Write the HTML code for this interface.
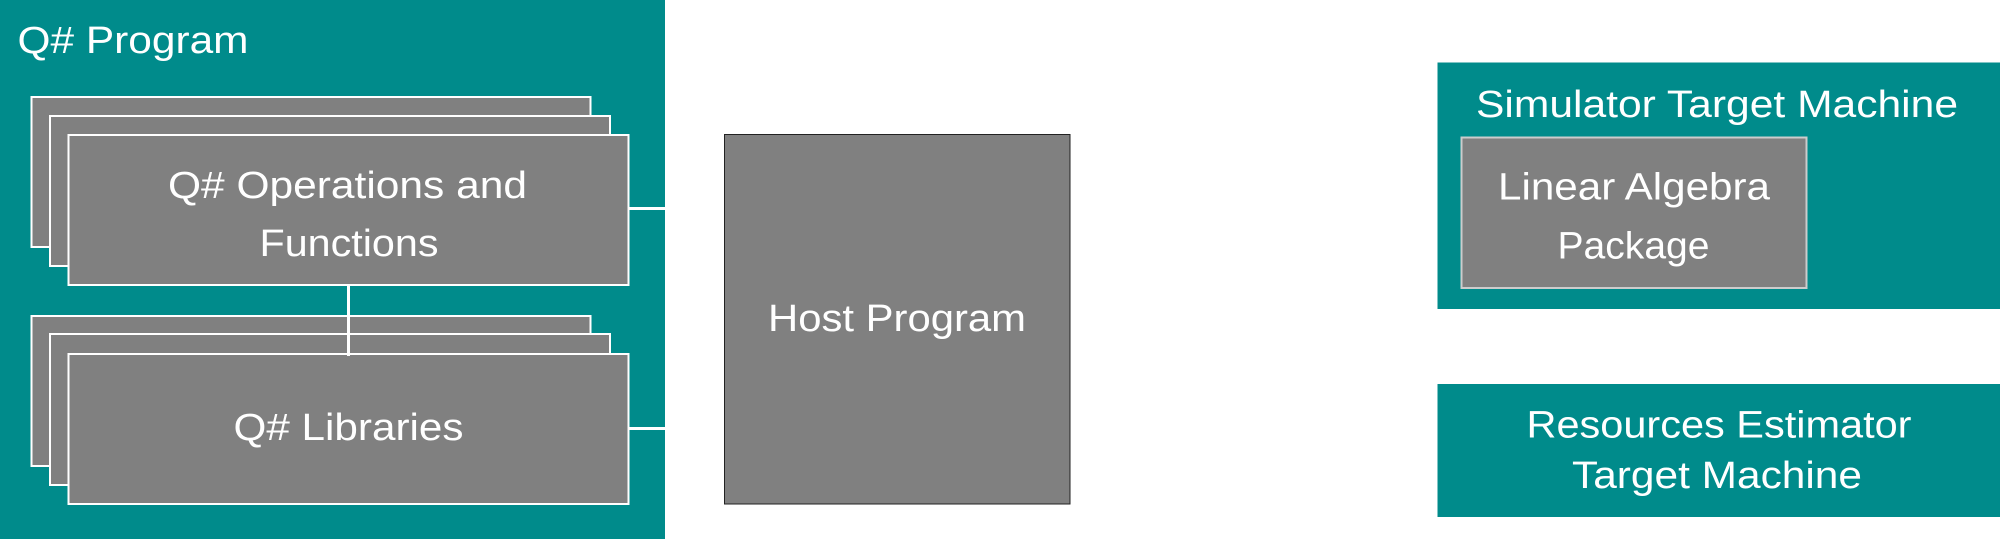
<!DOCTYPE html>
<html><head><meta charset="utf-8"><style>
html,body{margin:0;padding:0;background:#fff;width:2000px;height:539px;overflow:hidden}
text{font-family:"Liberation Sans",sans-serif;font-size:38px;fill:#fff}
</style></head><body>
<svg width="2000" height="539" viewBox="0 0 2000 539" xmlns="http://www.w3.org/2000/svg">
<rect x="0" y="0" width="665" height="539" fill="#008b8b"/>
<text x="17.5" y="53" textLength="231" lengthAdjust="spacingAndGlyphs">Q# Program</text>
<g fill="#808080" stroke="#fff" stroke-width="2">
<rect x="31.5" y="97" width="559" height="150"/>
<rect x="50" y="116" width="560" height="150"/>
<rect x="68.5" y="135" width="560" height="150"/>
<rect x="31.5" y="316" width="559" height="150"/>
<rect x="50" y="334" width="560" height="151"/>
<rect x="68.5" y="354" width="560" height="150"/>
</g>
<g stroke="#fff" stroke-width="3">
<line x1="348.5" y1="284" x2="348.5" y2="356"/>
<line x1="628" y1="208.5" x2="665" y2="208.5"/>
<line x1="628" y1="428.5" x2="665" y2="428.5"/>
</g>
<text x="168" y="198" textLength="359" lengthAdjust="spacingAndGlyphs">Q# Operations and</text>
<text x="259.5" y="256" textLength="179" lengthAdjust="spacingAndGlyphs">Functions</text>
<text x="233.5" y="440" textLength="230" lengthAdjust="spacingAndGlyphs">Q# Libraries</text>
<rect x="724.5" y="134.5" width="345.5" height="369.5" fill="#808080" stroke="#222" stroke-width="1"/>
<text x="768" y="331" textLength="258" lengthAdjust="spacingAndGlyphs">Host Program</text>
<rect x="1437.5" y="62.5" width="562.5" height="246.5" fill="#008b8b"/>
<text x="1476" y="117" textLength="482" lengthAdjust="spacingAndGlyphs">Simulator Target Machine</text>
<rect x="1461.5" y="137.5" width="345" height="150.5" fill="#808080" stroke="#ccc" stroke-width="2"/>
<text x="1498" y="199.5" textLength="272" lengthAdjust="spacingAndGlyphs">Linear Algebra</text>
<text x="1557.5" y="258.5" textLength="152" lengthAdjust="spacingAndGlyphs">Package</text>
<rect x="1437.5" y="384" width="562.5" height="133" fill="#008b8b"/>
<text x="1526.5" y="437.5" textLength="385" lengthAdjust="spacingAndGlyphs">Resources Estimator</text>
<text x="1572" y="488" textLength="290" lengthAdjust="spacingAndGlyphs">Target Machine</text>
</svg>
</body></html>
